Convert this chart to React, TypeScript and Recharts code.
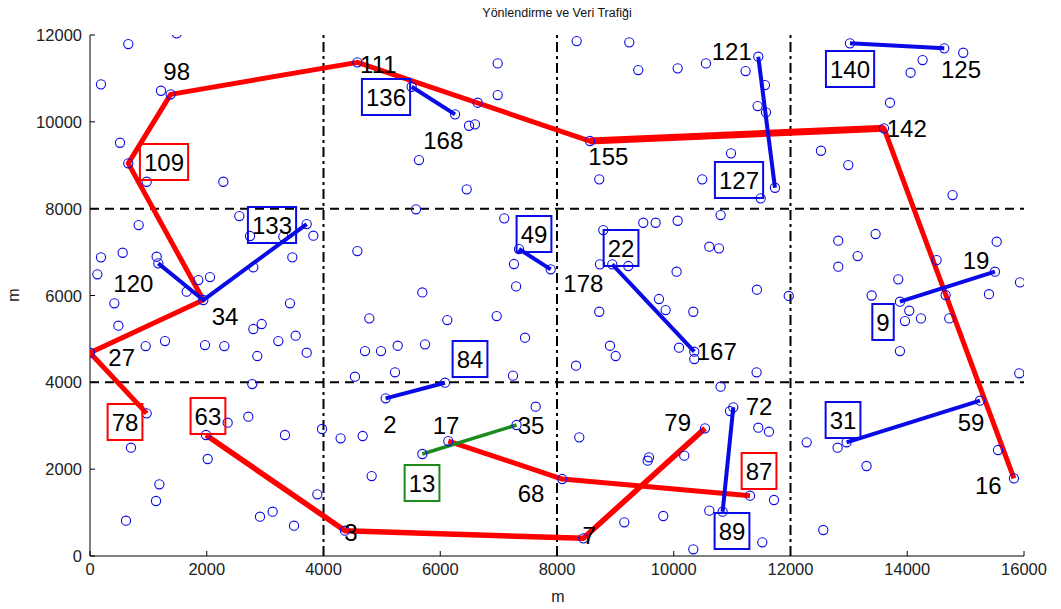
import React from 'react';
import { ScatterChart, Scatter, XAxis, YAxis, ReferenceLine } from 'recharts';

// ---------- data ----------
const nodeXY: [number, number][] = [
  [1485, 12038], [656, 11791], [188, 10863], [1216, 10716], [1382, 10633], [514, 9518], [656, 9044],
  [971, 8620], [2284, 8620], [2558, 7830], [834, 7623], [2741, 7370], [3712, 7646], [3826, 7377],
  [3312, 7355], [188, 6879], [560, 6985], [1142, 6893], [1170, 6740], [3466, 6879], [2798, 6649],
  [126, 6488], [1856, 6356], [2056, 6425], [1656, 6087], [417, 5820], [1941, 5896], [3426, 5820],
  [486, 5304], [2798, 5228], [2941, 5343], [1285, 4951], [954, 4836], [1970, 4859], [2301, 4836],
  [3226, 4951], [3523, 5074], [3712, 4682], [2866, 4606], [0, 4682], [2780, 3961], [971, 3286],
  [2358, 3070], [2712, 3208], [1987, 2787], [3340, 2787], [3975, 2925], [702, 2494], [2016, 2234],
  [1188, 1651], [1131, 1267], [3894, 1421], [2912, 905], [3129, 1020], [3495, 698], [617, 813],
  [4580, 11370], [6984, 11346], [6984, 10617], [6641, 10440], [5510, 10808], [6253, 10172],
  [6493, 9910], [6595, 9942], [5636, 9120], [6453, 8445], [5585, 7985], [7097, 7777], [4580, 7024],
  [7349, 7070], [7892, 6603], [7263, 6725], [7300, 6210], [5693, 6070], [4785, 5474], [6121, 5435],
  [6967, 5527], [7452, 5028], [4711, 4721], [4985, 4721], [5271, 4843], [5739, 4875], [5225, 4231],
  [4539, 4130], [6081, 3991], [5065, 3632], [7246, 4154], [7635, 3439], [7307, 3017], [4293, 2711],
  [4671, 2764], [6138, 2648], [5693, 2349], [4825, 1842], [4368, 583], [8451, 407],
  [8337, 11860], [9238, 11831], [9392, 11193], [10067, 11232], [10552, 11346], [11231, 11170],
  [11448, 11500], [11563, 10847], [11437, 10364], [11580, 10218], [11734, 8482], [11489, 8238],
  [8565, 9558], [10981, 9274], [8724, 8675], [10488, 8675], [10803, 7853], [8793, 7508],
  [9478, 7676], [9690, 7676], [10067, 7722], [10609, 7124], [10775, 7086], [8736, 6718],
  [8947, 6718], [9221, 6679], [10049, 6548], [11425, 6134], [11970, 5990], [9747, 5919],
  [9861, 5665], [10335, 5626], [8724, 5626], [8908, 4843], [9005, 4606], [8326, 4383],
  [10090, 4798], [10352, 4706], [10352, 4537], [11419, 4231], [10803, 3899], [11020, 3424],
  [10963, 3339], [11448, 2955], [11631, 2863], [10535, 2940], [8382, 2733], [9576, 2273],
  [9553, 2195], [10180, 2311], [8090, 1773], [11306, 1389], [11717, 1290], [10609, 1044],
  [10837, 1020], [9820, 921], [9153, 776], [11517, 316], [10335, 154],
  [13019, 11808], [14634, 11692], [14959, 11591], [14263, 11423], [14057, 11131], [13704, 10440],
  [13601, 9850], [12522, 9334], [12990, 9005], [14777, 8314], [12818, 7262], [13458, 7416],
  [13150, 6909], [12818, 6663], [15532, 7239], [14503, 6817], [15502, 6548], [15931, 6303],
  [13846, 6372], [13390, 6000], [15400, 6030], [13875, 5857], [14657, 6011], [14035, 5649],
  [13961, 5412], [14235, 5473], [14720, 5473], [13875, 4721], [15919, 4208], [15246, 3577],
  [12277, 2619], [12807, 2494], [12961, 2619], [13303, 2073], [15555, 2441], [15828, 1789],
  [12561, 599],
];

// red routes
const routeA: [number, number][] = [
  [971, 3286], [0, 4682], [1941, 5896], [656, 9044], [1382, 10633], [4580, 11370],
  [8565, 9558], [13601, 9850], [15828, 1789],
];
const routeAHeavy: [number, number][] = [[8565, 9558], [13601, 9850]];
const routeB: [number, number][] = [[1987, 2787], [4368, 583], [8451, 407], [10535, 2940]];
const routeC: [number, number][] = [[6138, 2648], [8090, 1773], [11306, 1389]];

// blue links
const blueLinks: [number, number][][] = [
  [[1170, 6740], [1941, 5896], [3712, 7646]],
  [[5510, 10808], [6253, 10172]],
  [[7349, 7070], [7892, 6603]],
  [[11448, 11500], [11734, 8482]],
  [[8947, 6718], [10352, 4706]],
  [[13019, 11808], [14634, 11692]],
  [[13875, 5857], [15502, 6548]],
  [[5065, 3632], [6081, 3991]],
  [[11020, 3424], [10837, 1020]],
  [[12961, 2619], [15246, 3577]],
];

// green link
const greenLink: [number, number][] = [[5693, 2349], [7307, 3017]];

// boxed labels (text, x, y)
const redBoxLabels: [string, number, number][] = [
  ['109', 1268, 9075], ['78', 600, 3086], ['63', 2021, 3224], ['87', 11461, 1958],
];
const blueBoxLabels: [string, number, number][] = [
  ['133', 3118, 7624], ['136', 5071, 10572], ['49', 7606, 7416], ['127', 11118, 8660],
  ['22', 9097, 7094], ['140', 13020, 11217], ['84', 6510, 4537], ['89', 10998, 576],
  ['9', 13585, 5390], ['31', 12900, 3132],
];
const greenBoxLabels: [string, number, number][] = [['13', 5688, 1681]];
const plainLabels: [string, number, number][] = [
  ['98', 1485, 11155], ['120', 742, 6281], ['111', 4939, 11325], ['168', 6052, 9582],
  ['178', 8451, 6281], ['155', 8879, 9213], ['121', 10993, 11632], ['125', 14921, 11217],
  ['142', 13991, 9851], ['19', 15178, 6817], ['34', 2313, 5512], ['27', 543, 4570],
  ['2', 5139, 3033], ['17', 6099, 3017], ['35', 7555, 3017], ['68', 7555, 1444],
  ['3', 4471, 546], ['167', 10736, 4706], ['72', 11461, 3439], ['79', 10068, 3079],
  ['7', 8553, 484], ['59', 15092, 3079], ['16', 15389, 1619],
];

const xTicks = [0, 2000, 4000, 6000, 8000, 10000, 12000, 14000, 16000];
const yTicks = [0, 2000, 4000, 6000, 8000, 10000, 12000];
const vLines = [4000, 8000, 12000];
const hLines = [4000, 8000];

const title = 'Yönlendirme ve Veri Trafiği';
const xLabel = 'm';
const yLabel = 'm';

// ---------- helpers ----------
const toPts = (arr: [number, number][]) => arr.map(([x, y]) => ({ x, y }));
const toLabels = (arr: [string, number, number][]) => arr.map(([t, x, y]) => ({ t, x, y }));

const FONT = '"Liberation Sans", Arial, Helvetica, sans-serif';
const BLUE = '#0a0ae6';
const RED = '#ff0000';
const GREEN = '#1c8a1c';

const Empty = () => <g />;

const CircleShape = (p: any) => (
  <circle cx={p.cx} cy={p.cy} r={4.6} fill="none" stroke={BLUE} strokeWidth={1.1} />
);

const makeBox = (color: string) => (p: any) => {
  const t: string = p.payload.t;
  const w = t.length * 13.4 + 8;
  const h = 36;
  return (
    <g>
      <rect x={p.cx - w / 2} y={p.cy - h / 2} width={w} height={h} fill="none" stroke={color} strokeWidth={2} />
      <text x={p.cx} y={p.cy + 8.6} textAnchor="middle" fontSize={24} fontFamily={FONT} fill="#000">{t}</text>
    </g>
  );
};

const PlainText = (p: any) => (
  <text x={p.cx} y={p.cy + 8.6} textAnchor="middle" fontSize={24} fontFamily={FONT} fill="#000">{p.payload.t}</text>
);

const XTick = (p: any) => {
  const { x, y, payload } = p;
  return (
    <g>
      <line x1={x} y1={y} x2={x} y2={y - 5} stroke="#000" strokeWidth={1} />
      <text x={x} y={y + 19} textAnchor="middle" fontSize={16.5} fontFamily={FONT} fill="#222">{payload.value}</text>
    </g>
  );
};

const YTick = (p: any) => {
  const { x, y, payload } = p;
  return (
    <g>
      <line x1={x} y1={y} x2={x + 5} y2={y} stroke="#000" strokeWidth={1} />
      <text x={x - 8} y={y + 6} textAnchor="end" fontSize={16.5} fontFamily={FONT} fill="#222">{payload.value}</text>
    </g>
  );
};

export default function App() {
  const W = 1045;
  const H = 595;
  return (
    <div style={{ position: 'relative', width: W, height: H }}>
      <ScatterChart width={W} height={H} margin={{ top: 27, right: 29, left: 0, bottom: 17 }}>
        <XAxis
          type="number"
          dataKey="x"
          domain={[0, 16000]}
          ticks={xTicks}
          interval={0}
          tickSize={0}
          tickMargin={0}
          tick={<XTick />}
          height={30}
          axisLine={{ stroke: '#000', strokeWidth: 1 }}
          allowDataOverflow
        />
        <YAxis
          type="number"
          dataKey="y"
          domain={[0, 12000]}
          ticks={yTicks}
          interval={0}
          tickSize={0}
          tickMargin={0}
          tick={<YTick />}
          width={82}
          axisLine={{ stroke: '#000', strokeWidth: 1 }}
          allowDataOverflow
        />
        {vLines.map((v) => (
          <ReferenceLine key={'v' + v} x={v} stroke="#000" strokeWidth={2} strokeDasharray="10 4 3 4" />
        ))}
        {hLines.map((v) => (
          <ReferenceLine key={'h' + v} y={v} stroke="#000" strokeWidth={2} strokeDasharray="9 6" />
        ))}

        <Scatter data={toPts(routeA)} shape={<Empty />} line={{ stroke: RED, strokeWidth: 5, strokeLinejoin: 'round' }} isAnimationActive={false} legendType="none" />
        <Scatter data={toPts(routeAHeavy)} shape={<Empty />} line={{ stroke: RED, strokeWidth: 7 }} isAnimationActive={false} legendType="none" />
        <Scatter data={toPts(routeB)} shape={<Empty />} line={{ stroke: RED, strokeWidth: 5.5, strokeLinejoin: 'round' }} isAnimationActive={false} legendType="none" />
        <Scatter data={toPts(routeC)} shape={<Empty />} line={{ stroke: RED, strokeWidth: 5, strokeLinejoin: 'round' }} isAnimationActive={false} legendType="none" />
        {blueLinks.map((l, i) => (
          <Scatter key={'b' + i} data={toPts(l)} shape={<Empty />} line={{ stroke: BLUE, strokeWidth: 4, strokeLinejoin: 'round' }} isAnimationActive={false} legendType="none" />
        ))}
        <Scatter data={toPts(greenLink)} shape={<Empty />} line={{ stroke: GREEN, strokeWidth: 3.5 }} isAnimationActive={false} legendType="none" />

        <Scatter data={toPts(nodeXY)} shape={<CircleShape />} isAnimationActive={false} legendType="none" />

        <Scatter data={toLabels(redBoxLabels)} shape={makeBox(RED)} isAnimationActive={false} legendType="none" />
        <Scatter data={toLabels(blueBoxLabels)} shape={makeBox(BLUE)} isAnimationActive={false} legendType="none" />
        <Scatter data={toLabels(greenBoxLabels)} shape={makeBox(GREEN)} isAnimationActive={false} legendType="none" />
        <Scatter data={toLabels(plainLabels)} shape={<PlainText />} isAnimationActive={false} legendType="none" />
      </ScatterChart>

      <div style={{ position: 'absolute', left: 0, width: 1098, top: -1, textAlign: 'center', fontFamily: FONT, fontSize: 12.5, lineHeight: '13px', color: '#111' }}>
        {title}
      </div>
      <div style={{ position: 'absolute', left: 0, width: 1100, top: 581, textAlign: 'center', fontFamily: FONT, fontSize: 16, lineHeight: '16px', color: '#222' }}>
        {xLabel}
      </div>
      <div style={{ position: 'absolute', left: -2, top: 279, width: 16, height: 16, fontFamily: FONT, fontSize: 16, lineHeight: '16px', color: '#222', transform: 'rotate(-90deg)', textAlign: 'center' }}>
        {yLabel}
      </div>
    </div>
  );
}
